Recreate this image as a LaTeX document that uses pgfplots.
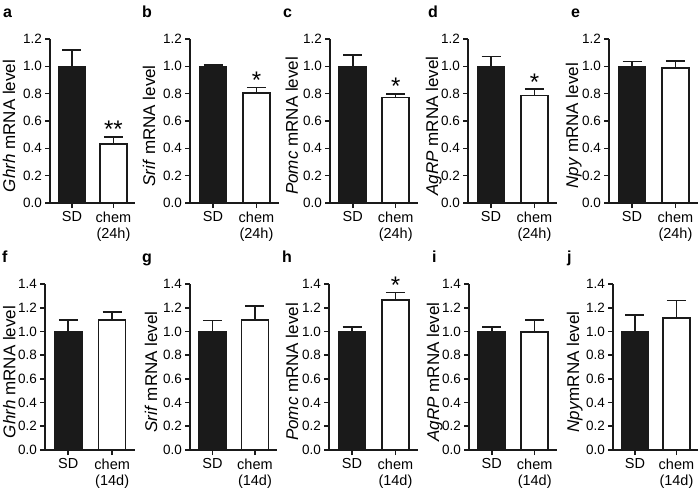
\documentclass[border=0pt]{standalone}
\usepackage{pgfplots}
\pgfplotsset{compat=1.18}
\usepackage{fontspec}
\setmainfont{Liberation Sans}
\definecolor{ink}{HTML}{1A1A1A}
\pgfplotsset{
  panel/.style={
    scale only axis, anchor=south west,
    xmin=-0.53, xmax=1.52, ymin=0,
    axis x line*=bottom, axis y line*=left,
    axis line style={ink, line width=1.6pt, -},
    tick style={ink, line width=1.6pt},
    tick align=outside, major tick length=5pt,
    xtick={0,1},
    ybar, bar width=27pt,
    clip=false,
    /pgf/number format/assume math mode=true,
    yticklabel style={font=\fontsize{13.5}{16}\selectfont, inner sep=3pt, /pgf/number format/fixed, /pgf/number format/fixed zerofill, /pgf/number format/precision=1},
    xticklabel style={font=\fontsize{14.5}{16.5}\selectfont, align=center},
  },
  row1/.style={height=164pt, ymax=1.2, ytick={0,0.2,...,1.2}, xticklabels={SD,{chem\\(24h)}}},
  row2/.style={height=166pt, ymax=1.4, ytick={0,0.2,...,1.4}, xticklabels={SD,{chem\\(14d)}}},
  ylab/.style={ylabel style={font=\fontsize{17}{20}\selectfont, at={(axis description cs:#1,0.47)}, anchor=base}},
  ebar/.style={bar shift=0pt, error bars/.cd, y dir=plus, y explicit,
    error bar style={ink, line width=1.6pt},
    error mark options={rotate=90, ink, line width=1.6pt, mark size=9.5pt}},
  sdbar/.style={fill=ink, draw=ink, line width=1.6pt, ebar},
  chbar/.style={fill=white, draw=ink, line width=1.6pt, ebar},
}
\tikzset{star/.style={font=\fontsize{24}{24}\selectfont, anchor=base, yshift=-1pt, inner sep=0pt}}
\begin{document}
\begin{tikzpicture}
\path[use as bounding box] (0,0) rectangle (700pt,496pt);
% panel letters
\foreach \l/\x in {a/3,b/142,c/283,d/428,e/571}{
  \node[anchor=base west, inner sep=0pt, font=\bfseries\fontsize{16}{16}\selectfont] at (\x pt,478pt) {\l};}
\foreach \l/\x in {f/2,g/142,h/282,i/432,j/567}{
  \node[anchor=base west, inner sep=0pt, font=\bfseries\fontsize{16}{16}\selectfont] at (\x pt,234pt) {\l};}

% ---------- row 1 ----------
\begin{axis}[panel, row1, at={(50pt,293pt)}, width=85pt, ylab=-0.41, ylabel={\textit{Ghrh} mRNA level}]
\addplot[sdbar] coordinates {(0,1.0) +- (0,0.12)};
\addplot[chbar] coordinates {(1,0.43) +- (0,0.055)};
\node[star] at (axis cs:1,0.485) {**};
\end{axis}

\begin{axis}[panel, row1, at={(190pt,293pt)}, width=89pt, ylab=-0.393, ylabel={\textit{Srif} mRNA level}]
\addplot[sdbar] coordinates {(0,1.0) +- (0,0.008)};
\addplot[chbar] coordinates {(1,0.805) +- (0,0.04)};
\node[star] at (axis cs:1,0.845) {*};
\end{axis}

\begin{axis}[panel, row1, at={(330pt,293pt)}, width=88pt, ylab=-0.364, ylabel={\textit{Pomc} mRNA level}]
\addplot[sdbar] coordinates {(0,1.0) +- (0,0.085)};
\addplot[chbar] coordinates {(1,0.773) +- (0,0.025)};
\node[star] at (axis cs:1,0.798) {*};
\end{axis}

\begin{axis}[panel, row1, at={(468pt,293pt)}, width=89pt, ylab=-0.337, ylabel={\textit{AgRP} mRNA level}]
\addplot[sdbar] coordinates {(0,1.0) +- (0,0.072)};
\addplot[chbar] coordinates {(1,0.787) +- (0,0.047)};
\node[star] at (axis cs:1,0.834) {*};
\end{axis}

\begin{axis}[panel, row1, at={(609pt,293pt)}, width=89pt, ylab=-0.348, ylabel={\textit{Npy} mRNA level}]
\addplot[sdbar] coordinates {(0,1.0) +- (0,0.035)};
\addplot[chbar] coordinates {(1,0.99) +- (0,0.05)};
\end{axis}

% ---------- row 2 ----------
\begin{axis}[panel, row2, at={(45pt,46pt)}, width=90pt, ylab=-0.33, ylabel={\textit{Ghrh} mRNA level}]
\addplot[sdbar] coordinates {(0,1.0) +- (0,0.095)};
\addplot[chbar] coordinates {(1,1.095) +- (0,0.07)};
\end{axis}

\begin{axis}[panel, row2, at={(190pt,46pt)}, width=87pt, ylab=-0.379, ylabel={\textit{Srif} mRNA level}]
\addplot[sdbar] coordinates {(0,1.0) +- (0,0.093)};
\addplot[chbar] coordinates {(1,1.095) +- (0,0.12)};
\end{axis}

\begin{axis}[panel, row2, at={(329pt,46pt)}, width=89pt, ylab=-0.348, ylabel={\textit{Pomc} mRNA level}]
\addplot[sdbar] coordinates {(0,1.0) +- (0,0.035)};
\addplot[chbar] coordinates {(1,1.265) +- (0,0.065)};
\node[star] at (axis cs:1,1.33) {*};
\end{axis}

\begin{axis}[panel, row2, at={(469pt,46pt)}, width=88pt, ylab=-0.34, ylabel={\textit{AgRP} mRNA level}]
\addplot[sdbar] coordinates {(0,1.0) +- (0,0.035)};
\addplot[chbar] coordinates {(1,0.995) +- (0,0.10)};
\end{axis}

\begin{axis}[panel, row2, at={(613pt,46pt)}, width=85pt, ylab=-0.4, ylabel={\textit{Npy}mRNA level}]
\addplot[sdbar] coordinates {(0,1.0) +- (0,0.14)};
\addplot[chbar] coordinates {(1,1.115) +- (0,0.145)};
\end{axis}
\end{tikzpicture}
\end{document}
